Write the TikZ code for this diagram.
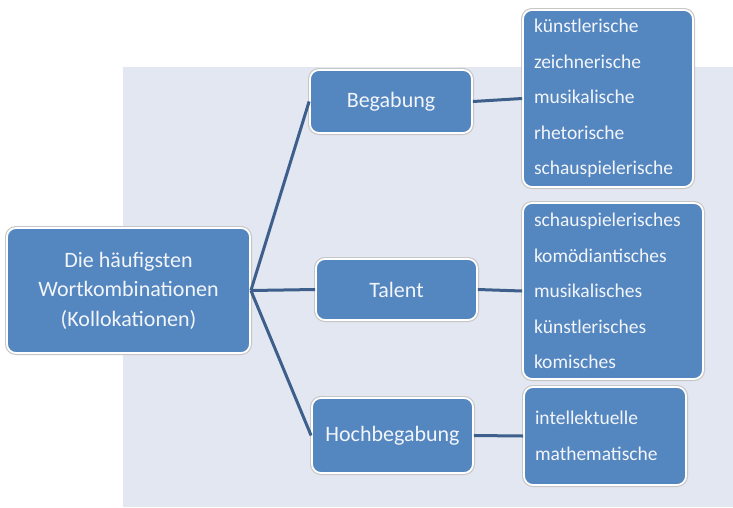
\documentclass[tikz,border=0pt]{standalone}
\usepackage{fontspec}
\setmainfont{Carlito}
\definecolor{boxblue}{HTML}{5486C0}
\definecolor{bgblue}{HTML}{E3E7F2}
\definecolor{linkblue}{HTML}{3E5F8C}
\definecolor{txtwhite}{HTML}{F2F5FA}
\tikzset{
  bluebox/.style={preaction={draw=gray!45, line width=4pt, rounded corners=9pt},
    draw=white, line width=1.8pt, fill=boxblue, rounded corners=9pt,
    text=txtwhite, align=center, inner sep=0pt},
  headbox/.style={bluebox, font=\fontsize{22}{29.5}\selectfont},
  listbox/.style={bluebox, align=left, inner xsep=11pt, inner ysep=0pt,
    font=\fontsize{19.5}{35.5}\selectfont},
  link/.style={draw=linkblue, line width=3pt}
}
\begin{document}
\begin{tikzpicture}[x=1pt,y=-1pt]
\useasboundingbox (0,0) rectangle (733,507);
\fill[bgblue] (123,67) rectangle (733,507);
\node[headbox, minimum width=243pt, minimum height=125pt] (main) at (128.5,290.5)
  {Die häufigsten\\Wortkombinationen\\(Kollokationen)};
\node[headbox, minimum width=162pt, minimum height=63pt] (beg) at (391,101.5) {Begabung};
\node[headbox, minimum width=161pt, minimum height=61pt] (tal) at (396.5,289.5) {Talent};
\node[headbox, minimum width=161pt, minimum height=75pt] (hoch) at (392.5,435.5) {Hochbegabung};
\node[listbox, text width=148pt, minimum height=177pt] (l1) at (608,98.5)
  {künstlerische\\zeichnerische\\musikalische\\rhetorische\\schauspielerische};
\node[listbox, text width=158pt, minimum height=176pt] (l2) at (613,291)
  {schauspielerisches\\komödiantisches\\musikalisches\\künstlerisches\\komisches};
\node[listbox, text width=140pt, minimum height=98pt] (l3) at (605,436)
  {intellektuelle\\mathematische};
\draw[link] (main.east) -- (beg.west);
\draw[link] (main.east) -- (tal.west);
\draw[link] (main.east) -- (hoch.west);
\draw[link] (beg.east) -- (l1.west);
\draw[link] (tal.east) -- (l2.west);
\draw[link] (hoch.east) -- (l3.west);
\end{tikzpicture}
\end{document}
